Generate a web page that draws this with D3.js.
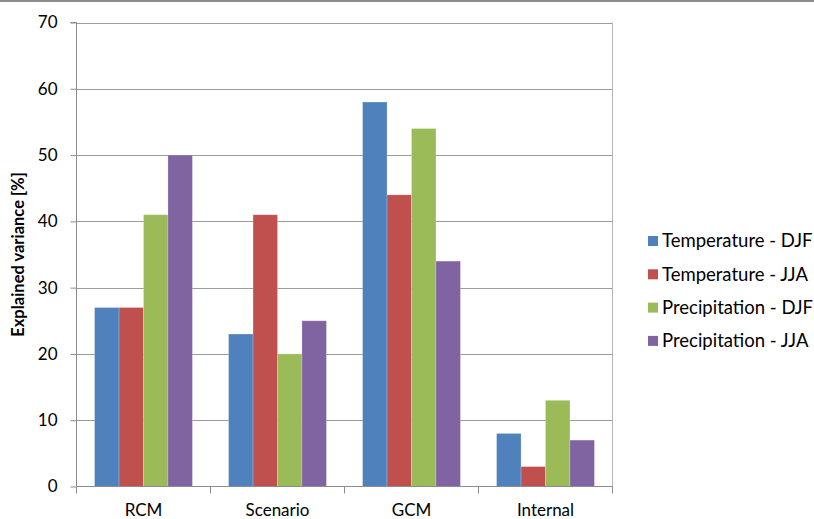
<!DOCTYPE html>
<html>
<head>
<meta charset="utf-8">
<script src="https://cdn.jsdelivr.net/npm/d3@7"></script>
<style>
  html, body { margin: 0; padding: 0; background: #fff; }
  svg { display: block; }
  text { font-family: Lato, "Open Sans", sans-serif; fill: #000; }
</style>
</head>
<body>
<svg id="chart" width="814" height="519"></svg>
<script>
// Explained variance by source of uncertainty
const categories = ["RCM", "Scenario", "GCM", "Internal"];
const seriesNames = ["Temperature - DJF", "Temperature - JJA", "Precipitation - DJF", "Precipitation - JJA"];
const tempDJF = [27, 23, 58, 8];
const tempJJA = [27, 41, 44, 3];
const precDJF = [41, 20, 54, 13];
const precJJA = [50, 25, 34, 7];
const yTicks = [0, 10, 20, 30, 40, 50, 60, 70];
const colors = ["#4F81BD", "#C0504D", "#9BBB59", "#8064A2"];

const seriesValues = [tempDJF, tempJJA, precDJF, precJJA];
const FONT = "Lato, 'Open Sans', sans-serif";

const svg = d3.select("#chart");
const margin = { left: 76.5, right: 612.5, top: 22.5, bottom: 486.5 };

// frame line along the top edge
svg.append("line")
  .attr("x1", 0).attr("x2", 814).attr("y1", 1).attr("y2", 1)
  .attr("stroke", "#8c8c8c").attr("stroke-width", 2);

const x0 = d3.scaleBand().domain(categories).range([margin.left, margin.right]).paddingInner(0).paddingOuter(0);
const x1 = d3.scaleBand().domain(d3.range(seriesNames.length))
  .range([0, x0.bandwidth()]).paddingInner(0).paddingOuter(0.74);
const y = d3.scaleLinear().domain([0, 70]).range([margin.bottom, margin.top]);

// gridlines
svg.append("g").selectAll("line").data(yTicks.filter(d => d > 0)).join("line")
  .attr("x1", margin.left).attr("x2", margin.right)
  .attr("y1", d => Math.round(y(d)) + 0.5).attr("y2", d => Math.round(y(d)) + 0.5)
  .attr("stroke", "#9c9c9c").attr("stroke-width", 1);

// plot area right border
svg.append("line")
  .attr("x1", margin.right).attr("x2", margin.right)
  .attr("y1", y(70)).attr("y2", y(0))
  .attr("stroke", "#b4b4b4").attr("stroke-width", 1);

// bars
const rows = categories.map((c, i) => ({ cat: c, vals: seriesValues.map(s => s[i]) }));
svg.append("g").selectAll("g").data(rows).join("g")
  .attr("transform", d => `translate(${x0(d.cat)},0)`)
  .selectAll("rect").data(d => d.vals.map((v, k) => ({ v, k }))).join("rect")
  .attr("x", d => x1(d.k))
  .attr("width", x1.bandwidth())
  .attr("y", d => y(d.v))
  .attr("height", d => y(0) - y(d.v))
  .attr("fill", d => colors[d.k])
  .attr("stroke", "rgba(255,255,255,0.25)")
  .attr("stroke-width", 0.8);

// y axis
const yAxis = d3.axisLeft(y).tickValues(yTicks).tickSize(6).tickPadding(6);
const gy = svg.append("g").attr("transform", `translate(${margin.left},0)`).call(yAxis)
  .attr("font-size", 17).attr("font-family", FONT);
gy.select(".domain").attr("stroke", "#8c8c8c").attr("d", `M-6,${y(70)}H0V${y(0)}`);
gy.selectAll(".tick line").attr("stroke", "#8c8c8c");
gy.selectAll(".tick text").attr("fill", "#000").attr("x", -19);

// x axis
const xAxis = d3.axisBottom(x0).tickSize(0).tickPadding(16);
const gx = svg.append("g").attr("transform", `translate(0,${margin.bottom})`).call(xAxis)
  .attr("font-size", 17).attr("font-family", FONT);
gx.select(".domain").attr("stroke", "#8c8c8c").attr("d", `M${margin.left},0H${margin.right}`);
gx.selectAll(".tick text").attr("fill", "#000").attr("y", 17).attr("dy", "0.71em");
// category boundary ticks
const boundaries = categories.map(c => x0(c)).concat([x0.range()[1]]);
gx.append("g").selectAll("line").data(boundaries).join("line")
  .attr("x1", d => d).attr("x2", d => d).attr("y1", 0).attr("y2", 7)
  .attr("stroke", "#8c8c8c");

// y axis title
svg.append("text")
  .attr("transform", `translate(24,${(y(0) + y(70)) / 2}) rotate(-90)`)
  .attr("text-anchor", "middle")
  .attr("font-size", 16.5).attr("font-weight", "bold")
  .text("Explained variance [%]");

// legend
const legend = svg.append("g").selectAll("g").data(seriesNames).join("g")
  .attr("transform", (d, i) => `translate(648,${241 + i * 33.3})`);
legend.append("rect").attr("x", 0).attr("y", -5).attr("width", 10).attr("height", 10)
  .attr("fill", (d, i) => colors[i]);
legend.append("text").attr("x", 14).attr("y", 0).attr("dy", "0.35em")
  .attr("font-size", 18.5).text(d => d);
</script>
</body>
</html>
